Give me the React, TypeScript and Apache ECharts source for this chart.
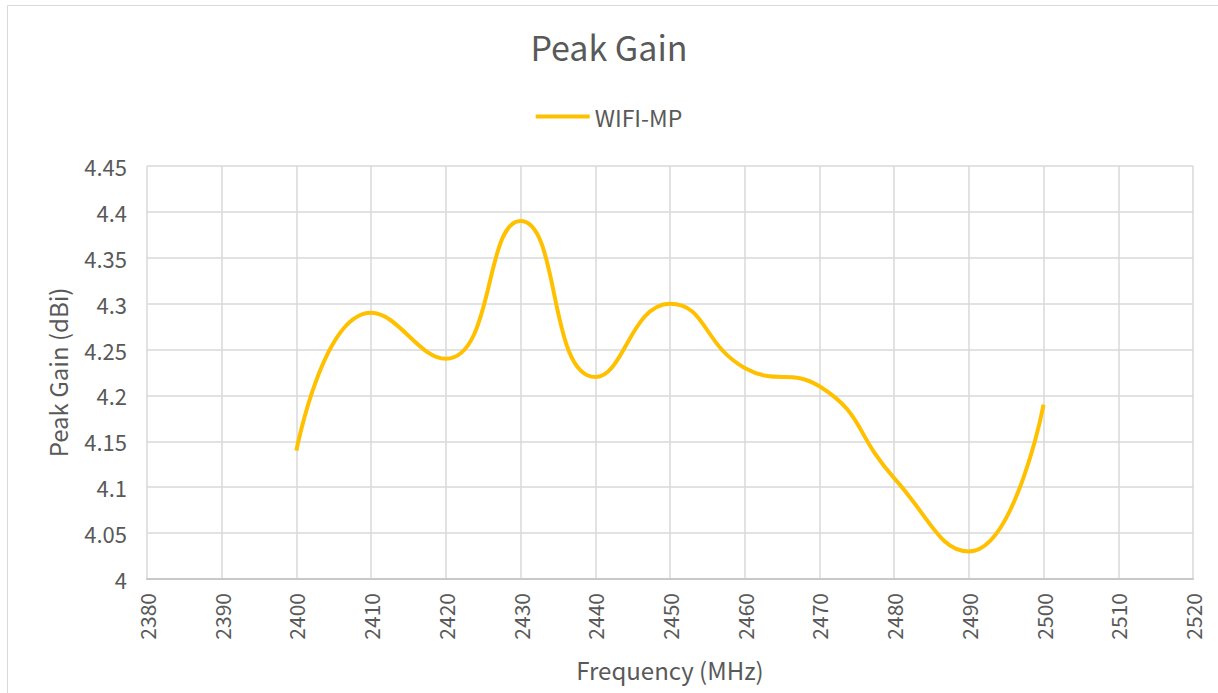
import React, { useEffect, useRef } from "react";
import * as echarts from "echarts";

const frequencies = [2400, 2410, 2420, 2430, 2440, 2450, 2460, 2470, 2480, 2490, 2500];
const gains = [4.14, 4.29, 4.24, 4.39, 4.22, 4.30, 4.23, 4.21, 4.11, 4.03, 4.19];
const seriesName = "WIFI-MP";

const FONT = "'Noto Sans CJK SC', 'Noto Sans', sans-serif";
const TXT = "#595959";

export default function App() {
  const ref = useRef<HTMLDivElement>(null);
  useEffect(() => {
    if (!ref.current) return;
    const chart = echarts.init(ref.current, undefined, { renderer: "svg" });
    chart.setOption({
      animation: false,
      backgroundColor: "#ffffff",
      textStyle: { fontFamily: FONT },
      title: {
        text: "Peak Gain",
        left: "center",
        top: 24,
        textStyle: { fontFamily: FONT, fontSize: 34, fontWeight: "normal", color: TXT },
      },
      legend: {
        top: 100,
        left: "center",
        itemWidth: 54,
        itemHeight: 4,
        itemGap: 8,
        icon: "rect",
        data: [seriesName],
        textStyle: { fontFamily: FONT, fontSize: 23, color: TXT },
      },
      graphic: [
        {
          type: "rect",
          shape: { x: 7.5, y: 5.5, width: 1220, height: 700 },
          style: { fill: "none", stroke: "#d9d9d9", lineWidth: 1 },
          silent: true,
        },
      ],
      grid: { left: 147, right: 25, top: 166, bottom: 114, containLabel: false },
      xAxis: {
        type: "value",
        min: 2380,
        max: 2520,
        interval: 10,
        name: "Frequency (MHz)",
        nameLocation: "middle",
        nameGap: 78,
        nameTextStyle: { fontFamily: FONT, fontSize: 24, color: TXT },
        axisLine: { show: true, lineStyle: { color: "#c8c8c8", width: 2 } },
        axisTick: { show: false },
        axisLabel: {
          rotate: 90,
          margin: 14,
          fontFamily: FONT,
          fontSize: 21,
          color: TXT,
          formatter: (v: number) => String(v),
        },
        splitLine: { show: true, lineStyle: { color: "#d9d9d9", width: 1.5 } },
      },
      yAxis: {
        type: "value",
        min: 4,
        max: 4.45,
        interval: 0.05,
        name: "Peak Gain (dBi)",
        nameLocation: "middle",
        nameGap: 78,
        nameTextStyle: { fontFamily: FONT, fontSize: 24, color: TXT },
        axisLine: { show: false },
        axisTick: { show: false },
        axisLabel: {
          margin: 20,
          fontFamily: FONT,
          fontSize: 22,
          color: TXT,
          formatter: (v: number) => String(parseFloat(v.toFixed(2))),
        },
        splitLine: { show: true, lineStyle: { color: "#d9d9d9", width: 1.5 } },
      },
      series: [
        {
          name: seriesName,
          type: "line",
          data: frequencies.map((f, i) => [f, gains[i]]),
          smooth: 0.5,
          showSymbol: false,
          symbol: "none",
          lineStyle: { color: "#FFC000", width: 4 },
          itemStyle: { color: "#FFC000" },
        },
      ],
    });
    return () => chart.dispose();
  }, []);
  return (
    <div
      ref={ref}
      style={{ position: "fixed", left: 0, top: 0, width: 1218, height: 693 }}
    />
  );
}
